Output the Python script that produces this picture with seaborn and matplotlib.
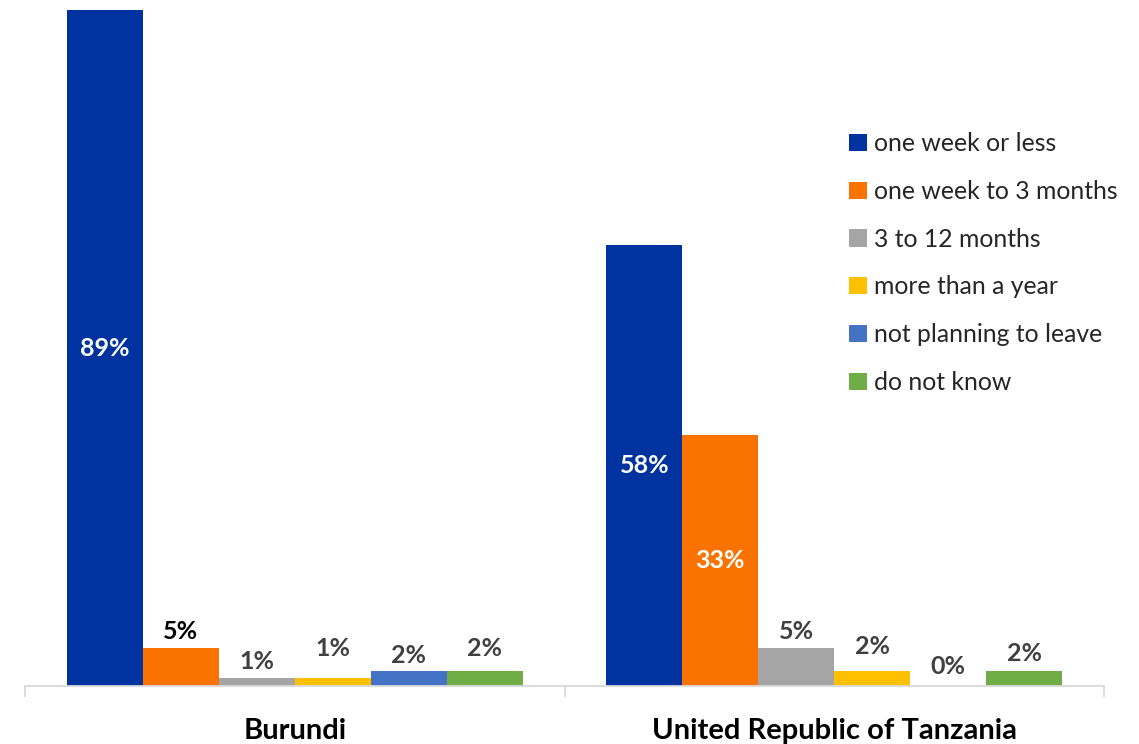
import matplotlib
matplotlib.use("Agg")
import matplotlib.pyplot as plt
import seaborn as sns
import pandas as pd
from matplotlib.patches import Patch

countries = ["Burundi", "United Republic of Tanzania"]
durations = ["one week or less", "one week to 3 months", "3 to 12 months",
             "more than a year", "not planning to leave", "do not know"]
burundi = [89, 5, 1, 1, 2, 2]
tanzania = [58, 33, 5, 2, 0, 2]
colors = ["#0033A0", "#FA7300", "#A5A5A5", "#FFC000", "#4472C4", "#70AD47"]

# label offsets above bar tops (pixels), per country
label_dy = [[0, 17, 17, 30, 15, 22], [0, 0, 17, 24, 19, 17]]

rows = []
for c, vals in zip(countries, [burundi, tanzania]):
    for d, v in zip(durations, vals):
        rows.append({"country": c, "duration": d, "value": v})
df = pd.DataFrame(rows)

sns.set_style("white")
plt.rcParams["font.family"] = ["Lato", "DejaVu Sans"]

fig = plt.figure(figsize=(11.39, 7.44), dpi=100)
ax = fig.add_axes([25/1139, 58/744, (1104-25)/1139, 676/744])

sns.barplot(data=df, x="country", y="value", hue="duration", order=countries,
            hue_order=durations, palette=colors, width=0.845, saturation=1,
            ax=ax, legend=False, edgecolor="none", linewidth=0)

ax.set_xlim(-0.5, 1.5)
ax.set_ylim(0, 89)
ax.set_xlabel("")
ax.set_ylabel("")
ax.set_yticks([])
for s in ["top", "right", "left"]:
    ax.spines[s].set_visible(False)
ax.spines["bottom"].set_color("#D9D9D9")
ax.spines["bottom"].set_linewidth(1.3)
ax.set_xticks([0, 1])
ax.set_xticklabels(countries, fontsize=21, fontweight="bold", color="black")
ax.tick_params(axis="x", which="both", bottom=True)
ax.tick_params(axis="x", which="major", length=0, pad=23)
ax.set_xticks([-0.5, 0.5, 1.5], minor=True)
ax.tick_params(axis="x", which="minor", length=8, color="#D9D9D9", width=1.3)

# data labels
for ci, container in enumerate(ax.containers):
    for gi, bar in enumerate(container):
        v = bar.get_height()
        xc = bar.get_x() + bar.get_width() / 2
        if v > 20:
            ax.text(xc, v / 2, f"{v:.0f}%", ha="center", va="center",
                    color="white", fontsize=18, fontweight="bold")
        else:
            col = "black" if (gi == 0 and ci == 1) else "#404040"
            ax.annotate(f"{v:.0f}%", (xc, v), xytext=(0, label_dy[gi][ci] * 0.72),
                        textcoords="offset points", ha="center", va="center",
                        color=col, fontsize=18, fontweight="bold")

handles = [Patch(facecolor=c, edgecolor="none") for c in colors]
fig.legend(handles, durations, loc="upper left",
           bbox_to_anchor=(827/1139, 1 - 110/744), frameon=False,
           fontsize=17.8, handlelength=0.7, handleheight=0.7,
           handletextpad=0.3, labelspacing=1.0)

fig.savefig("out.png", dpi=100)
